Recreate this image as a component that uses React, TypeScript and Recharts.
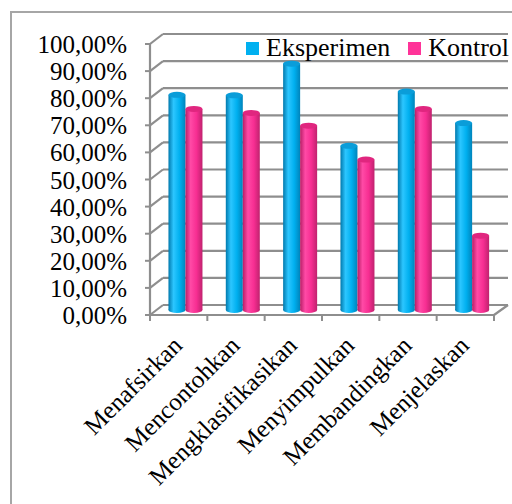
import { BarChart, Bar, XAxis, YAxis, CartesianGrid, Legend } from "recharts"

const categories = [
	"Menafsirkan",
	"Mencontohkan",
	"Mengklasifikasikan",
	"Menyimpulkan",
	"Membandingkan",
	"Menjelaskan",
]
const eksperimen = [79.4, 79.2, 90.9, 60.6, 80.6, 69.0]
const kontrol = [74.2, 72.7, 68.0, 55.5, 74.2, 27.4]
const yTicks = [0, 10, 20, 30, 40, 50, 60, 70, 80, 90, 100]

const data = categories.map((name, i) => ({
	name,
	Eksperimen: eksperimen[i],
	Kontrol: kontrol[i],
}))

// depth offsets for the fake 3D look
const DX = 13
const DY = 10
const BAR_DX = 7
const BAR_DY = 5
const GRID = "#8e8e8e"
const FONT = '"Liberation Serif", "Times New Roman", serif'

const fmt = (v: number) => `${v.toFixed(2).replace(".", ",")}%`

const GridLine = (p: any) => {
	const { x1, y1, x2, index } = p
	const bottom = p.y != null && p.height != null ? p.y + p.height : null
	const isFloor = bottom != null ? Math.abs(y1 - bottom) < 0.5 : index === 0
	const n = categories.length
	return (
		<g key={`g-${index}`}>
			<line x1={x1} y1={y1} x2={x1 + DX} y2={y1 - DY} stroke={GRID} strokeWidth={2.2} />
			<line x1={x1 + DX} y1={y1 - DY} x2={x2 + DX + 1} y2={y1 - DY} stroke={GRID} strokeWidth={2.2} />
			{isFloor && (
				<g>
					<line x1={x1} y1={y1} x2={x2} y2={y1} stroke={GRID} strokeWidth={2.2} />
					<line x1={x2} y1={y1} x2={x2 + DX + 1} y2={y1 - DY} stroke={GRID} strokeWidth={2.2} />
					{Array.from({ length: n + 1 }, (_, i) => {
						const tx = x1 + ((x2 - x1) * i) / n
						return <line key={i} x1={tx} y1={y1} x2={tx} y2={y1 + 6} stroke={GRID} strokeWidth={2} />
					})}
				</g>
			)}
		</g>
	)
}

const Cylinder = (props: any) => {
	const { x, y, width, height, grad, cap } = props
	if (height == null || width == null) return null
	const left = x + BAR_DX
	const cx = left + width / 2
	const top = y - BAR_DY
	const bottom = y + height - BAR_DY
	const rx = width / 2
	const ry = 3
	return (
		<g>
			<ellipse cx={cx} cy={bottom} rx={rx} ry={ry} fill={`url(#${grad})`} />
			<rect x={left} y={top} width={width} height={bottom - top} fill={`url(#${grad})`} />
			<ellipse cx={cx} cy={top} rx={rx} ry={ry} fill={cap} />
		</g>
	)
}

const YTick = (p: any) => (
	<text x={p.x} y={p.y + 9} textAnchor="end" fontFamily={FONT} fontSize={25} fill="#000">
		{fmt(p.payload.value)}
	</text>
)

const XTick = (p: any) => (
	<text
		transform={`translate(${p.x + 5},${p.y + 32}) rotate(-45)`}
		textAnchor="end"
		fontFamily={FONT}
		fontSize={25}
		fill="#000"
	>
		{p.payload.value}
	</text>
)

const LegendContent = (props: any) => (
	<div style={{ display: "flex", alignItems: "center", fontFamily: FONT, fontSize: 26, lineHeight: "26px", color: "#000" }}>
		{(props.payload || []).map((e: any, i: number) => (
			<div key={i} style={{ display: "flex", alignItems: "center", marginRight: i === 0 ? 18 : 0 }}>
				<span style={{ width: 13, height: 13, background: e.color, display: "inline-block", marginRight: 7 }} />
				<span>{e.value}</span>
			</div>
		))}
	</div>
)

export default function App() {
	return (
		<div style={{ position: "absolute", left: 0, top: 0, width: 512, height: 504, overflow: "hidden", background: "#fff" }}>
			<div style={{ position: "absolute", left: 10, top: 11, width: 600, height: 600, border: "2px solid #a6a6a6" }} />
			<svg width={0} height={0} style={{ position: "absolute" }}>
				<defs>
					<linearGradient id="gBlue" x1="0" y1="0" x2="1" y2="0">
						<stop offset="0%" stopColor="#0079ad" />
						<stop offset="30%" stopColor="#2cc6ff" />
						<stop offset="65%" stopColor="#00b0f0" />
						<stop offset="100%" stopColor="#0084bb" />
					</linearGradient>
					<linearGradient id="gPink" x1="0" y1="0" x2="1" y2="0">
						<stop offset="0%" stopColor="#b81e66" />
						<stop offset="30%" stopColor="#ff4aa6" />
						<stop offset="65%" stopColor="#f72e92" />
						<stop offset="100%" stopColor="#c0226e" />
					</linearGradient>
				</defs>
			</svg>
			<div style={{ position: "absolute", left: 0, top: 0 }}>
				<BarChart
					width={512}
					height={504}
					data={data}
					margin={{ top: 44, right: 18, bottom: 39, left: 10 }}
					barCategoryGap="20%"
					barGap={0}
				>
					<CartesianGrid vertical={false} horizontal={GridLine} />
					<XAxis
						dataKey="name"
						height={150}
						axisLine={false}
						tickLine={false}
						tickSize={0}
						tickMargin={0}
						interval={0}
						tick={<XTick />}
					/>
					<YAxis
						width={140}
						domain={[0, 100]}
						ticks={yTicks}
						interval={0}
						axisLine={{ stroke: GRID, strokeWidth: 2.2 }}
						tickLine={{ stroke: GRID, strokeWidth: 2 }}
						tickSize={5}
						tickMargin={18}
						tick={<YTick />}
					/>
					<Legend
						layout="horizontal"
						verticalAlign="middle"
						align="center"
						wrapperStyle={{ top: 35, left: 246, width: "auto" }}
						content={<LegendContent />}
					/>
					<Bar
						dataKey="Eksperimen"
						fill="#00b0f0"
						isAnimationActive={false}
						shape={(p: any) => <Cylinder {...p} grad="gBlue" cap="#0a9dd9" />}
					/>
					<Bar
						dataKey="Kontrol"
						fill="#ff3399"
						isAnimationActive={false}
						shape={(p: any) => <Cylinder {...p} grad="gPink" cap="#e0267f" />}
					/>
				</BarChart>
			</div>
		</div>
	)
}
